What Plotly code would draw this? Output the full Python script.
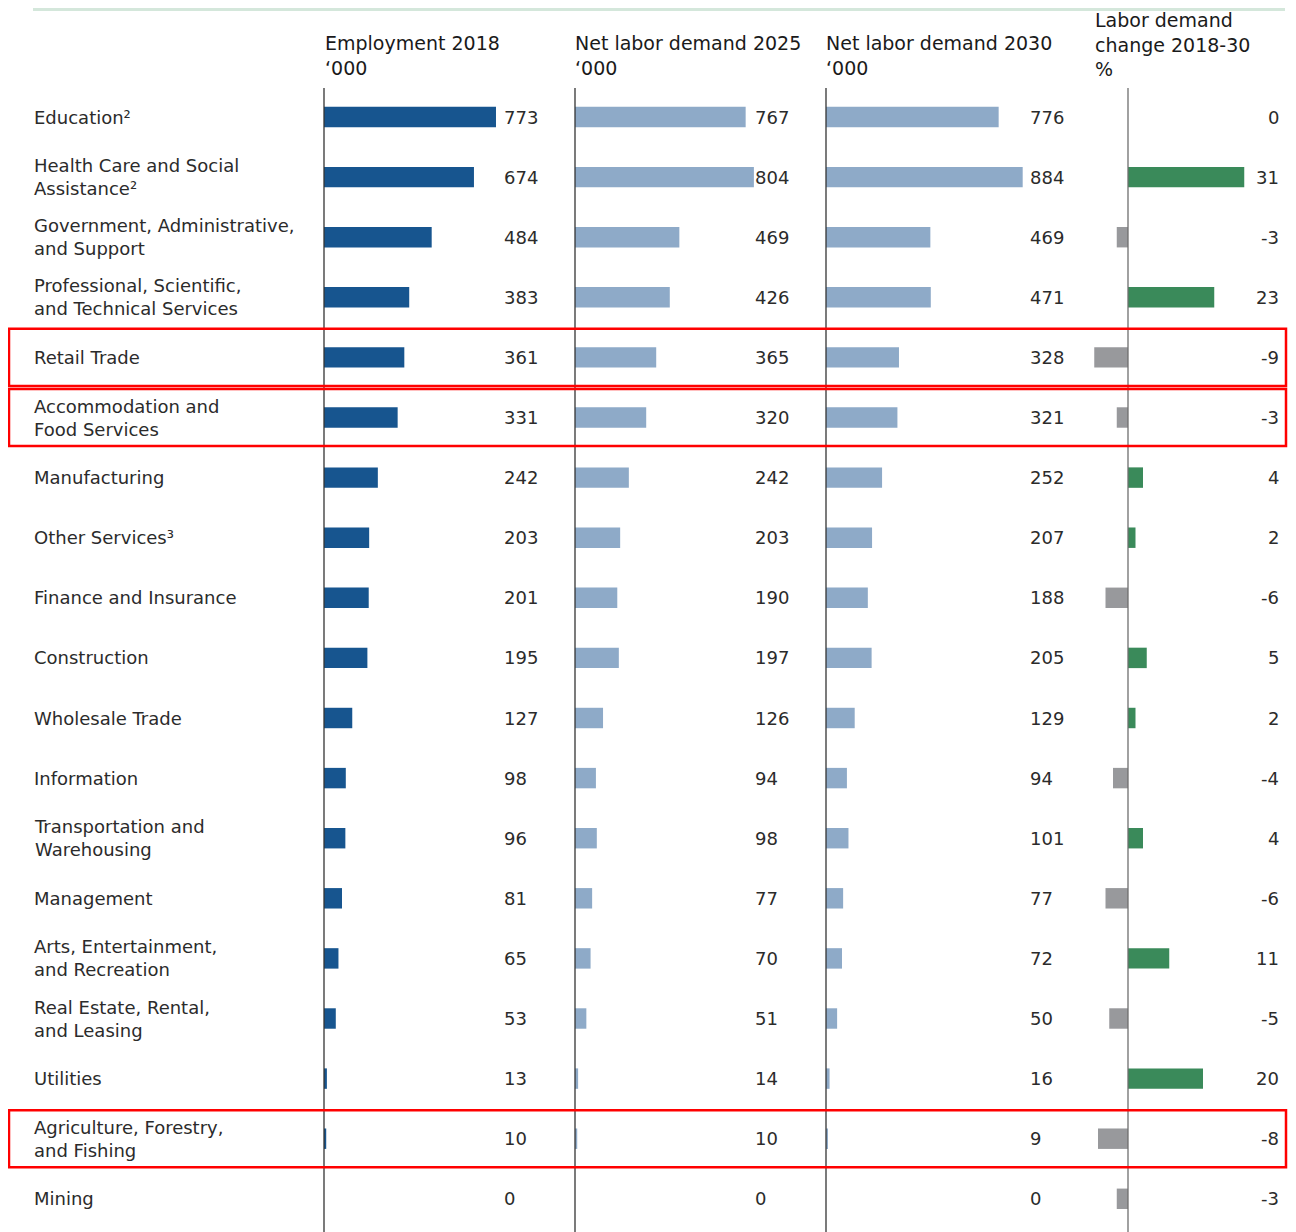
import plotly.graph_objects as go

# ---------------- data ----------------
industries = [
    "Education²",
    "Health Care and Social<br>Assistance²",
    "Government, Administrative,<br>and Support",
    "Professional, Scientific,<br>and Technical Services",
    "Retail Trade",
    "Accommodation and<br>Food Services",
    "Manufacturing",
    "Other Services³",
    "Finance and Insurance",
    "Construction",
    "Wholesale Trade",
    "Information",
    "Transportation and<br>Warehousing",
    "Management",
    "Arts, Entertainment,<br>and Recreation",
    "Real Estate, Rental,<br>and Leasing",
    "Utilities",
    "Agriculture, Forestry,<br>and Fishing",
    "Mining",
]
employment_2018 = [773, 674, 484, 383, 361, 331, 242, 203, 201, 195, 127, 98, 96, 81, 65, 53, 13, 10, 0]
net_demand_2025 = [767, 804, 469, 426, 365, 320, 242, 203, 190, 197, 126, 94, 98, 77, 70, 51, 14, 10, 0]
net_demand_2030 = [776, 884, 469, 471, 328, 321, 252, 207, 188, 205, 129, 94, 101, 77, 72, 50, 16, 9, 0]
change_pct = [0, 31, -3, 23, -9, -3, 4, 2, -6, 5, 2, -4, 4, -6, 11, -5, 20, -8, -3]
highlighted = ["Retail Trade", "Accommodation and<br>Food Services", "Agriculture, Forestry,<br>and Fishing"]

headers = [
    "Employment 2018<br>‘000",
    "Net labor demand 2025<br>‘000",
    "Net labor demand 2030<br>‘000",
    "Labor demand<br>change 2018-30<br>%",
]

# ---------------- style ----------------
OFF = 8                      # page body margin
W, H = 1296 - OFF, 1232 - OFF
FONT = "DejaVu Sans"
TXT = "#2b2b2b"
DARK_BLUE = "#17558f"
LIGHT_BLUE = "#8eaac8"
GREEN = "#3a8a5a"
GREY = "#98999c"


def px(x):
    """screen pixel x -> paper"""
    return (x - OFF) / W


def py(y):
    """screen pixel y -> paper"""
    return 1 - (y - OFF) / H


fig = go.Figure()

scale_k = 0.2225  # px per thousand
cols = [(324, 560), (575, 811), (826, 1058)]
series = [employment_2018, net_demand_2025, net_demand_2030]
colors = [DARK_BLUE, LIGHT_BLUE, LIGHT_BLUE]
value_x = [502, 753, 1028]

for i, ((x0, x1), vals, c) in enumerate(zip(cols, series, colors)):
    ax = "x" if i == 0 else f"x{i+1}"
    fig.add_trace(go.Bar(
        x=vals, y=industries, orientation="h", marker=dict(color=c, line=dict(width=0)),
        width=0.34, xaxis=ax, yaxis="y", hoverinfo="x+y",
    ))
    key = "xaxis" if i == 0 else f"xaxis{i+1}"
    fig.layout[key] = dict(domain=[px(x0), px(x1)], range=[0, (x1 - x0) / scale_k],
                           visible=False, anchor="y", fixedrange=True)
    for name, v in zip(industries, vals):
        fig.add_annotation(x=px(value_x[i]), xref="paper", y=name, yref="y", text=str(v),
                           showarrow=False, xanchor="left", yanchor="middle",
                           font=dict(family=FONT, size=18, color=TXT))

# change column
z4, l4, r4 = 1128, 1060, 1290
scale_p = 3.75
fig.add_trace(go.Bar(
    x=change_pct, y=industries, orientation="h",
    marker=dict(color=[GREEN if v >= 0 else GREY for v in change_pct], line=dict(width=0)),
    width=0.34, xaxis="x4", yaxis="y",
))
fig.layout["xaxis4"] = dict(domain=[px(l4), px(r4)],
                            range=[-(z4 - l4) / scale_p, (r4 - z4) / scale_p],
                            visible=False, anchor="y", fixedrange=True)
for name, v in zip(industries, change_pct):
    fig.add_annotation(x=px(1281), xref="paper", y=name, yref="y", text=str(v),
                       showarrow=False, xanchor="right", yanchor="middle",
                       font=dict(family=FONT, size=18, color=TXT))

# y axis: row i centred at screen pixel 117 + 60.1*i
first, step = 117 - OFF, 60.1
top_idx = -first / step
bot_idx = (H - first) / step
fig.layout["yaxis"] = dict(domain=[0, 1], type="category", categoryorder="array",
                           categoryarray=industries, range=[bot_idx, top_idx],
                           visible=False, fixedrange=True)

# row labels
for name in industries:
    fig.add_annotation(x=px(32), xref="paper", y=name, yref="y", text=name,
                       showarrow=False, xanchor="left", yanchor="middle", align="left",
                       font=dict(family=FONT, size=18, color=TXT))

# headers
header_pos = [(323, 30), (573, 30), (824, 30), (1093, 7)]
for (hx, hy), t in zip(header_pos, headers):
    fig.add_annotation(x=px(hx), xref="paper", y=py(hy), yref="paper", text=t,
                       showarrow=False, xanchor="left", yanchor="top", align="left",
                       font=dict(family=FONT, size=19, color="#1a1a1a"))

# column axis lines
for xx, lc in [(324, "#333333"), (575, "#333333"), (826, "#333333"), (1128, "#6e6e6e")]:
    fig.add_shape(type="line", xref="paper", yref="paper", x0=px(xx), x1=px(xx),
                  y0=py(88), y1=0, line=dict(color=lc, width=1.3))

# top rule
fig.add_shape(type="line", xref="paper", yref="paper", x0=px(33), x1=px(1285),
              y0=py(9), y1=py(9), line=dict(color="#d4e7db", width=4))

# highlight boxes
for name in highlighted:
    idx = industries.index(name)
    fig.add_shape(type="rect", xref="paper", yref="y", x0=px(9), x1=px(1286),
                  y0=idx - 0.475, y1=idx + 0.475, line=dict(color="#ff0000", width=2.5),
                  fillcolor="rgba(0,0,0,0)")

fig.update_layout(width=W, height=H, margin=dict(l=0, r=0, t=0, b=0),
                  plot_bgcolor="white", paper_bgcolor="white", showlegend=False,
                  barmode="overlay")

fig.write_html("out.html")
